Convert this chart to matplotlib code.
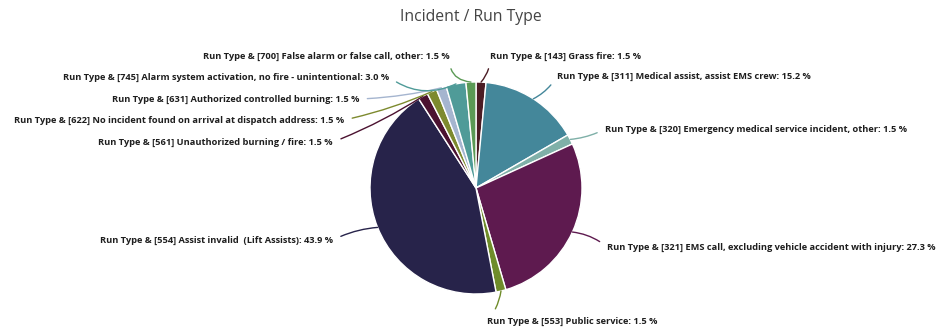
import matplotlib.pyplot as plt
import numpy as np

# donnees du graphique (nombre d'incidents par type)
codes = ["143", "311", "320", "321", "553", "554", "561", "622", "631", "745", "700"]
names = ["Grass fire",
         "Medical assist, assist EMS crew",
         "Emergency medical service incident, other",
         "EMS call, excluding vehicle accident with injury",
         "Public service",
         "Assist invalid  (Lift Assists)",
         "Unauthorized burning / fire",
         "No incident found on arrival at dispatch address",
         "Authorized controlled burning",
         "Alarm system activation, no fire - unintentional",
         "False alarm or false call, other"]
counts = [1, 10, 1, 18, 1, 29, 1, 1, 1, 2, 1]
percents = [1.5, 15.2, 1.5, 27.3, 1.5, 43.9, 1.5, 1.5, 1.5, 3.0, 1.5]
colors = ["#4b1c24", "#44879a", "#7fb0a8", "#5e1a4f", "#6f8c2a", "#27234a",
          "#4b1230", "#7d8a2e", "#a5b5cf", "#4f9b98", "#5b9a55"]

W, H = 941, 336
fig = plt.figure(figsize=(W / 100, H / 100), dpi=100)
ax = fig.add_axes([0, 0, 1, 1])

cx, cy, r = 476, H - 188, 106
wedges, _ = ax.pie(counts, colors=colors, startangle=90, counterclock=False,
                   center=(cx, cy), radius=r, frame=True,
                   wedgeprops=dict(edgecolor="white", linewidth=1.0))
ax.set_xlim(0, W)
ax.set_ylim(0, H)
ax.set_aspect("equal")
ax.axis("off")

# position des etiquettes (coordonnees image) et alignement
label_pos = {
    "143": (490, 56, "left"),
    "311": (557, 76, "left"),
    "320": (605, 129, "left"),
    "321": (607, 247, "left"),
    "553": (487, 321, "left"),
    "554": (333, 240, "right"),
    "561": (333, 142, "right"),
    "622": (344, 120, "right"),
    "631": (359, 99, "right"),
    "745": (389, 77, "right"),
    "700": (450, 56, "right"),
}
rads = {"143": -0.2, "311": -0.15, "320": -0.1, "321": 0.15, "553": 0.15,
        "554": -0.1, "561": 0.05, "622": 0.05, "631": 0.05, "745": 0.3, "700": 0.5}

for w, code, name, pct, col in zip(wedges, codes, names, percents, colors):
    ang = np.deg2rad((w.theta1 + w.theta2) / 2)
    ex = cx + r * np.cos(ang)
    ey = cy + r * np.sin(ang)
    tx, ty, ha = label_pos[code]
    ty = H - ty
    rel = (0, 0.5) if ha == "left" else (1, 0.5)
    txt = f"Run Type & [{code}] {name}: {pct:.1f} %"
    ax.annotate(txt, xy=(ex, ey), xytext=(tx, ty), ha=ha, va="center",
                fontsize=6.65, fontweight="bold", color="#1e1e1e",
                family=["Open Sans", "DejaVu Sans"],
                arrowprops=dict(arrowstyle="-", color=col, lw=1.0,
                                shrinkA=4, shrinkB=0, relpos=rel,
                                connectionstyle=f"arc3,rad={rads[code]}"))

fig.text(471 / W, 1 - 17 / H, "Incident / Run Type", ha="center", va="center",
         fontsize=11.3, color="#444444", family=["Open Sans", "DejaVu Sans"])

plt.savefig("out.png", dpi=100)
plt.close()
